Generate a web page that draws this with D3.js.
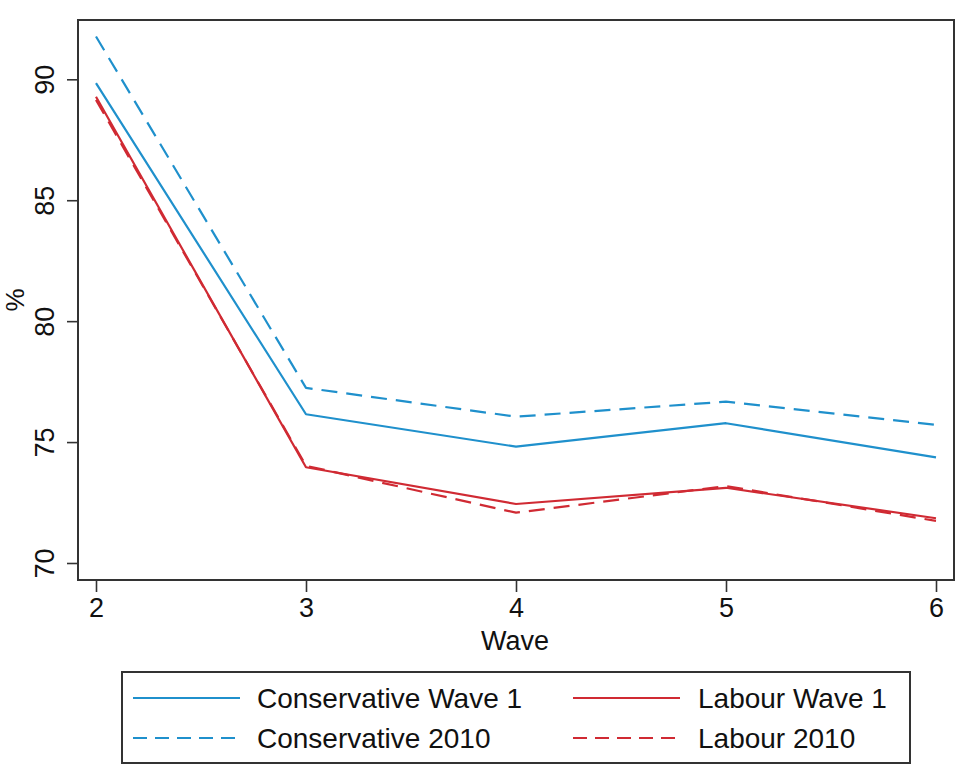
<!DOCTYPE html>
<html>
<head>
<meta charset="utf-8">
<script src="https://cdn.jsdelivr.net/npm/d3@7/dist/d3.min.js"></script>
<style>
  html, body { margin: 0; padding: 0; background: #fff; }
  svg { display: block; }
  text { font-family: "Liberation Sans", Arial, Helvetica, sans-serif; fill: #111; }
</style>
</head>
<body>
<svg id="chart" width="965" height="782"></svg>
<script>
const waves = [2, 3, 4, 5, 6];
const yTicks = [70, 75, 80, 85, 90];
const conservativeWave1 = [89.84, 76.15, 74.81, 75.78, 74.37];
const conservative2010  = [91.77, 77.24, 76.05, 76.67, 75.71];
const labourWave1       = [89.28, 73.96, 72.44, 73.11, 71.85];
const labour2010        = [89.15, 74.02, 72.08, 73.18, 71.74];
const seriesNames = ["Conservative Wave 1", "Conservative 2010", "Labour Wave 1", "Labour 2010"];

const blue = "#1f90cc", red = "#d02a33";
const series = [
  { name: seriesNames[0], values: conservativeWave1, color: blue, dash: null },
  { name: seriesNames[1], values: conservative2010, color: blue, dash: "16,9" },
  { name: seriesNames[2], values: labourWave1, color: red, dash: null },
  { name: seriesNames[3], values: labour2010, color: red, dash: "16,9" }
];

const svg = d3.select("#chart");
const frame = { left: 78, right: 954, top: 20, bottom: 580 };
const x = d3.scaleLinear().domain([2, 6]).range([96, 936]);
const y = d3.scaleLinear().domain([70, 90]).range([563, 79.3]);

// lines
const line = d3.line().x((d, i) => x(waves[i])).y(d => y(d));
const order = [0, 1, 3, 2];
order.forEach(k => {
  const s = series[k];
  svg.append("path")
    .attr("d", line(s.values))
    .attr("fill", "none")
    .attr("stroke", s.color)
    .attr("stroke-width", 2.2)
    .attr("stroke-linejoin", "round")
    .attr("stroke-dasharray", s.dash);
});

// frame
svg.append("rect")
  .attr("x", frame.left).attr("y", frame.top)
  .attr("width", frame.right - frame.left).attr("height", frame.bottom - frame.top)
  .attr("fill", "none").attr("stroke", "#333").attr("stroke-width", 2);

// x axis
const xAxis = d3.axisBottom(x).tickValues(waves).tickSize(12).tickPadding(5).tickFormat(d3.format("d"));
const gx = svg.append("g").attr("transform", `translate(0,${frame.bottom})`).call(xAxis);
gx.select(".domain").remove();
gx.selectAll(".tick line").attr("stroke", "#333").attr("stroke-width", 1.6);
gx.selectAll(".tick text").attr("font-size", 27).attr("dy", "0.75em").style("font-family", '"Liberation Sans", Arial, sans-serif').attr("fill", "#111");

// y axis
const yAxis = d3.axisLeft(y).tickValues(yTicks).tickSize(11).tickPadding(0).tickFormat(d3.format("d"));
const gy = svg.append("g").attr("transform", `translate(${frame.left},0)`).call(yAxis);
gy.select(".domain").remove();
gy.selectAll(".tick line").attr("stroke", "#333").attr("stroke-width", 1.6);
gy.selectAll(".tick text")
  .attr("x", null).attr("dy", null)
  .attr("text-anchor", "middle")
  .attr("font-size", 27)
  .attr("transform", "translate(-34,0) rotate(-90)")
  .attr("y", 0)
  .attr("dy", "0.36em")
  .style("font-family", '"Liberation Sans", Arial, sans-serif').attr("fill", "#111");

// axis titles
svg.append("text").attr("x", 515).attr("y", 650).attr("text-anchor", "middle").attr("font-size", 27).text("Wave");
svg.append("text").attr("transform", "translate(24,300) rotate(-90)").attr("text-anchor", "middle").attr("font-size", 26).text("%");

// legend
const legend = svg.append("g");
legend.append("rect").attr("x", 122).attr("y", 672).attr("width", 788).attr("height", 91)
  .attr("fill", "none").attr("stroke", "#333").attr("stroke-width", 2);
const legPos = [
  { lx: 133, tx: 257, cy: 698 },
  { lx: 133, tx: 257, cy: 738 },
  { lx: 573, tx: 698, cy: 698 },
  { lx: 573, tx: 698, cy: 738 }
];
series.forEach((s, i) => {
  const p = legPos[i];
  legend.append("line").attr("x1", p.lx).attr("x2", p.lx + 107).attr("y1", p.cy).attr("y2", p.cy)
    .attr("stroke", s.color).attr("stroke-width", 2.2).attr("stroke-dasharray", s.dash ? "14,8" : null);
  legend.append("text").attr("x", p.tx).attr("y", p.cy + 10).attr("font-size", 28).text(s.name);
});
</script>
</body>
</html>
